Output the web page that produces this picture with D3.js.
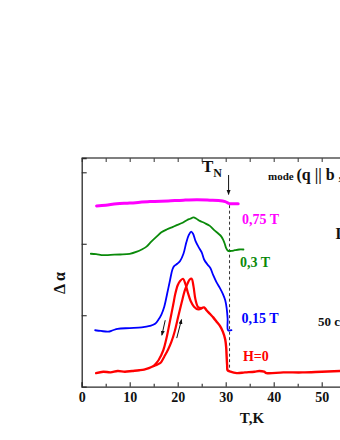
<!DOCTYPE html>
<html>
<head>
<meta charset="utf-8">
<script src="https://cdn.jsdelivr.net/npm/d3@7"></script>
<style>
  html, body { margin: 0; padding: 0; background: #ffffff; }
  svg { display: block; }
  text { font-family: "Liberation Serif", "DejaVu Serif", serif; font-weight: bold; }
</style>
</head>
<body>
<svg id="chart" width="340" height="440"></svg>
<script>
// ---- data (T in K, Δα in arbitrary units) ----
const xMajorTicks = [0, 10, 20, 30, 40, 50];
const xMinorTicks = [5, 15, 25, 35, 45, 55];
const yTicks = [1, 2, 3];

const magentaT = [3.1, 5, 7.3, 10, 14.2, 18, 21.2, 24, 26.7, 28.5, 29.9, 30.5, 30.9, 32, 32.6];
const magentaV = [2.53, 2.54, 2.56, 2.57, 2.59, 2.60, 2.61, 2.615, 2.61, 2.605, 2.59, 2.57, 2.56, 2.56, 2.56];

const greenT = [1.9, 3, 4.5, 6, 8, 10, 11.5, 12.5, 13.5, 14.5, 15.6, 16.6, 17.7, 18.8, 19.8, 20.9, 21.9, 22.6, 23.3, 23.9, 24.6, 25.6, 26.7, 27.6, 28.5, 29.1, 29.5, 29.8, 30.1, 30.5, 31.2, 31.9, 32.8, 33.7];
const greenV = [1.86, 1.855, 1.84, 1.845, 1.85, 1.86, 1.89, 1.92, 1.96, 2.03, 2.10, 2.16, 2.20, 2.23, 2.26, 2.29, 2.33, 2.35, 2.37, 2.35, 2.32, 2.29, 2.25, 2.19, 2.14, 2.10, 2.05, 2.00, 1.94, 1.90, 1.90, 1.91, 1.92, 1.92];

const blueT = [2.8, 4, 5.5, 6.5, 7.5, 10, 12.5, 14.2, 15.3, 16, 16.6, 17.2, 17.8, 18.4, 18.9, 19.3, 19.9, 20.5, 21.2, 21.8, 22.3, 22.8, 23.2, 23.7, 24.3, 25, 25.5, 26.2, 26.8, 27.4, 28.1, 28.8, 29.4, 29.9, 30.2, 30.4, 30.5, 31.2];
const blueV = [0.79, 0.78, 0.77, 0.79, 0.81, 0.82, 0.83, 0.85, 0.88, 0.94, 1.01, 1.12, 1.30, 1.49, 1.64, 1.69, 1.72, 1.76, 1.86, 2.02, 2.12, 2.17, 2.14, 2.04, 1.96, 1.88, 1.78, 1.71, 1.66, 1.56, 1.46, 1.38, 1.30, 1.21, 1.10, 0.95, 0.79, 0.79];

// H=0: low-T part, cooling branch, warming branch, high-T part
const redLowT = [3, 4.5, 6, 7.5, 9, 10.5, 12, 13, 14, 15];
const redLowV = [0.19, 0.21, 0.20, 0.22, 0.21, 0.22, 0.23, 0.24, 0.26, 0.29];
const redCoolT = [15, 16, 17, 17.6, 18.1, 18.6, 19.1, 19.5, 20, 20.5, 21.1, 21.6, 22.1, 22.7, 23.4, 24.3, 25];
const redCoolV = [0.29, 0.37, 0.51, 0.66, 0.82, 0.99, 1.16, 1.30, 1.42, 1.48, 1.51, 1.44, 1.32, 1.20, 1.12, 1.08, 1.10];
const redWarmT = [15, 15.8, 16.5, 17.2, 18, 18.7, 19.4, 20.1, 20.8, 21.5, 22.1, 22.5, 22.9, 23.3, 23.7, 24.3, 25];
const redWarmV = [0.29, 0.31, 0.34, 0.42, 0.52, 0.63, 0.78, 0.98, 1.17, 1.35, 1.45, 1.50, 1.51, 1.40, 1.22, 1.11, 1.10];
const redHighT = [25, 25.5, 26, 26.7, 27.4, 28.1, 28.8, 29.4, 29.9, 30.1, 30.2, 30.3, 30.4, 31, 32.3, 34, 36, 37, 38, 38.5, 42, 46, 50, 54, 58];
const redHighV = [1.10, 1.11, 1.07, 1.02, 0.97, 0.91, 0.85, 0.77, 0.66, 0.55, 0.42, 0.30, 0.23, 0.21, 0.19, 0.20, 0.21, 0.22, 0.21, 0.19, 0.20, 0.20, 0.21, 0.22, 0.23];

const seriesLabels = ["0,75 T", "0,3 T", "0,15 T", "H=0"];
const tNeel = 30.8;

// ---- layout ----
const svg = d3.select("#chart");
const x = d3.scaleLinear().domain([0, 60]).range([81.7, 369.7]);
const y = d3.scaleLinear().domain([0, 3.2]).range([386.7, 158]);

const axisColor = "#2a2a2a";

// top frame line
svg.append("line").attr("x1", x(0)).attr("x2", 345).attr("y1", y(3.2)).attr("y2", y(3.2))
  .attr("stroke", "#555").attr("stroke-width", 1.3);

// bottom axis (inward ticks)
const xAxis = d3.axisBottom(x).tickValues(xMajorTicks).tickSize(-4.5).tickPadding(5.5)
  .tickFormat(d3.format("d"));
const gx = svg.append("g").attr("transform", `translate(0,${y(0)})`).call(xAxis);
gx.select(".domain").attr("stroke", axisColor).attr("stroke-width", 1.3);
gx.selectAll(".tick line").attr("stroke", axisColor).attr("stroke-width", 1.1);
gx.selectAll(".tick text").attr("font-size", 14).attr("fill", "#111")
  .attr("font-family", "Liberation Serif, serif").attr("font-weight", "bold");
const gxm = svg.append("g").attr("transform", `translate(0,${y(0)})`)
  .call(d3.axisBottom(x).tickValues(xMinorTicks).tickSize(-3).tickFormat(""));
gxm.select(".domain").remove();
gxm.selectAll(".tick line").attr("stroke", axisColor).attr("stroke-width", 1.1);

// top axis ticks every 5
const gt = svg.append("g").attr("transform", `translate(0,${y(3.2)})`)
  .call(d3.axisTop(x).tickValues(xMajorTicks.concat(xMinorTicks)).tickSize(-4).tickFormat(""));
gt.select(".domain").remove();
gt.selectAll(".tick line").attr("stroke", "#444").attr("stroke-width", 1.1);

// left axis
const gy = svg.append("g").attr("transform", `translate(${x(0)},0)`)
  .call(d3.axisLeft(y).tickValues(yTicks).tickSize(-5).tickFormat(""));
gy.select(".domain").attr("stroke", axisColor).attr("stroke-width", 1.3);
gy.selectAll(".tick line").attr("stroke", axisColor).attr("stroke-width", 1.1);

// axis titles
svg.append("text").attr("x", 252).attr("y", 423).attr("text-anchor", "middle")
  .attr("font-size", 15).attr("fill", "#111").text("T,K");
svg.append("text").attr("transform", `translate(65,283) rotate(-90)`).attr("text-anchor", "middle")
  .attr("font-size", 16).attr("fill", "#111").text("Δ α");

// curves
const line = d3.line().x(d => x(d[0])).y(d => y(d[1])).curve(d3.curveCatmullRom.alpha(0.5));
const zipP = (a, b) => a.map((v, i) => [v, b[i]]);

const curves = [
  { t: magentaT, v: magentaV, color: "#ff00ff", w: 3 },
  { t: greenT, v: greenV, color: "#0a8a0a", w: 1.8 },
  { t: blueT, v: blueV, color: "#0000ff", w: 1.8 },
  { t: redLowT, v: redLowV, color: "#ff0000", w: 2.4 },
  { t: redCoolT, v: redCoolV, color: "#ff0000", w: 2.2 },
  { t: redWarmT, v: redWarmV, color: "#ff0000", w: 2.2 },
  { t: redHighT, v: redHighV, color: "#ff0000", w: 2.4 }
];

// dashed T_N line
svg.append("line").attr("x1", x(tNeel)).attr("x2", x(tNeel))
  .attr("y1", y(2.54)).attr("y2", y(0.22))
  .attr("stroke", "#333").attr("stroke-width", 1).attr("stroke-dasharray", "3,2.5");

curves.forEach(c => {
  svg.append("path").attr("d", line(zipP(c.t, c.v))).attr("fill", "none")
    .attr("stroke", c.color).attr("stroke-width", c.w)
    .attr("stroke-linejoin", "round").attr("stroke-linecap", "round");
});

// arrow marker
const defs = svg.append("defs");
defs.append("marker").attr("id", "ah").attr("viewBox", "0 0 10 10").attr("refX", 9).attr("refY", 5)
  .attr("markerWidth", 5).attr("markerHeight", 6).attr("orient", "auto")
  .append("path").attr("d", "M0,1 L10,5 L0,9 Z").attr("fill", "#111");

// T_N arrow
svg.append("line").attr("x1", x(30.6)).attr("x2", x(30.6)).attr("y1", 175).attr("y2", y(2.69))
  .attr("stroke", "#111").attr("stroke-width", 1).attr("marker-end", "url(#ah)");
// hysteresis arrows
svg.append("line").attr("x1", x(17.4)).attr("y1", y(0.93)).attr("x2", x(16.7)).attr("y2", y(0.72))
  .attr("stroke", "#111").attr("stroke-width", 1).attr("marker-end", "url(#ah)");
svg.append("line").attr("x1", x(19.8)).attr("y1", y(0.68)).attr("x2", x(20.8)).attr("y2", y(0.94))
  .attr("stroke", "#111").attr("stroke-width", 1).attr("marker-end", "url(#ah)");

// T_N label
const tn = svg.append("text").attr("x", 202).attr("y", 171.5).attr("font-size", 17).attr("fill", "#111");
tn.append("tspan").text("T");
tn.append("tspan").attr("font-size", 12).attr("dy", 5).text("N");

// mode label (clipped at right edge, as in the reference)
const md = svg.append("text").attr("x", 268).attr("y", 179.5).attr("fill", "#111");
md.append("tspan").attr("font-size", 11).text("mode ");
md.append("tspan").attr("font-size", 16).text("(q || b ,  k || c)");

// series labels
const labelPos = [
  { T: 33.4, v: 2.28, color: "#ff00ff" },
  { T: 33.0, v: 1.67, color: "#0a8a0a" },
  { T: 33.3, v: 0.89, color: "#0000ff" },
  { T: 33.6, v: 0.36, color: "#ff0000" }
];
seriesLabels.forEach((s, i) => {
  svg.append("text").attr("x", x(labelPos[i].T)).attr("y", y(labelPos[i].v))
    .attr("font-size", 14).attr("fill", labelPos[i].color).text(s);
});

// other annotations clipped at the right edge (as in the reference)
svg.append("text").attr("x", 335.5).attr("y", 239).attr("font-size", 16).attr("fill", "#111").text("L");
svg.append("text").attr("x", 318).attr("y", 326).attr("font-size", 13).attr("fill", "#111").text("50 cm");
</script>
</body>
</html>
